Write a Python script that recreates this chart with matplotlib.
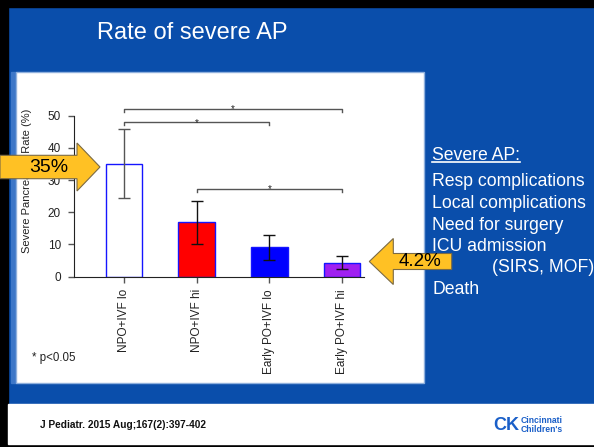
import matplotlib.pyplot as plt
from matplotlib.patches import Rectangle, Polygon

plt.rcParams['font.family'] = ['Liberation Sans', 'DejaVu Sans']

# Severe pancreatitis rate per group (%) with confidence limits
groups = ["NPO+IVF lo", "NPO+IVF hi", "Early PO+IVF lo", "Early PO+IVF hi"]
rates = [35.0, 16.9, 9.2, 4.2]
ci_low = [24.3, 10.1, 5.2, 2.3]
ci_high = [45.8, 23.6, 12.9, 6.4]
bar_colors = ["white", "#FF0000", "#0000FF", "#A020F0"]
err_colors = ["#555555", "#111111", "#111111", "#111111"]

# significance brackets (pairs of groups) and their heights
sig_pairs = [(0, 3), (0, 2), (1, 3)]
sig_levels = [52.2, 48.0, 27.3]

definition = ["Resp complications", "Local complications", "Need for surgery",
              "ICU admission", "(SIRS, MOF)", "Death"]

W, H = 594, 447
BLUE = "#0A4EAB"
GOLD = "#FFC124"


def box(axes, x0, y0, x1, y1, **kw):
    axes.add_patch(Rectangle((x0, y0), x1 - x0, y1 - y0, **kw))


def block_arrow(axes, tip, tail_x, head_len, head_half, body_half, label, text_x, size):
    tx, ty = tip
    d = 1 if tail_x < tx else -1
    base = tx - d*head_len
    pts = [(tail_x, ty - body_half), (base, ty - body_half), (base, ty - head_half),
           (tx, ty), (base, ty + head_half), (base, ty + body_half), (tail_x, ty + body_half)]
    axes.add_patch(Polygon(pts, closed=True, facecolor=GOLD, edgecolor="#7A6A45", lw=0.8))
    axes.text(text_x, ty, label, ha="center", va="center", fontsize=size, color="black")


def main():
    fig = plt.figure(figsize=(W/100, H/100), dpi=100)
    fig.patch.set_facecolor(BLUE)

    # slide background, in pixel coordinates
    bg = fig.add_axes([0, 0, 1, 1], zorder=0)
    bg.set(xlim=(0, W), ylim=(H, 0))
    bg.axis("off")
    box(bg, 0, 0, 8, H, color="black")
    box(bg, 0, 0, W, 7, color="black")
    box(bg, 0, 444, W, H, color="black")
    box(bg, 8, 404, W, 444, color="white")
    box(bg, 11, 72, 16, 383, color="#3D77C8")
    box(bg, 16, 72, 424, 383, facecolor="white", edgecolor="#8FB0DD", lw=1)

    bg.text(192, 33, "Rate of severe AP", color="white", fontsize=17, ha="center", va="center")
    bg.text(32, 358, "* p<0.05", fontsize=8.3, color="#222222", va="center")
    bg.text(40, 425, "J Pediatr. 2015 Aug;167(2):397-402", fontsize=7.3,
            fontweight="bold", color="#111111", va="center")
    bg.text(506, 425, "CK", fontsize=13, fontweight="bold", color="#1A5FC8",
            ha="center", va="center")
    bg.text(521, 425, "Cincinnati\nChildren's", fontsize=6.2, fontweight="bold",
            color="#1A5FC8", va="center", linespacing=0.95)

    # definition list on the right
    head = bg.text(432, 156, "Severe AP:", color="white", fontsize=12.7, va="center")
    ys = [182, 203.5, 225, 246.5, 268, 289.5]
    for line, y in zip(definition, ys):
        x = 491.7 if line.startswith("(") else 432
        bg.text(x, y, line, color="white", fontsize=12.7, va="center")

    # bar chart
    ax = fig.add_axes([74/W, 1 - 276.7/H, (364 - 74)/W, (276.7 - 115.7)/H], zorder=5)
    ax.patch.set_alpha(0)
    x = list(range(len(groups)))
    ax.bar(x, rates, width=0.5, color=bar_colors, edgecolor="#1515FF", linewidth=1)
    for i in x:
        ax.errorbar(i, rates[i], yerr=[[rates[i] - ci_low[i]], [ci_high[i] - rates[i]]],
                    color=err_colors[i], capsize=4, lw=1, capthick=1)
    for (a, b), level in zip(sig_pairs, sig_levels):
        ax.plot([a, a, b, b], [level - 1, level, level, level - 1], color="#555555",
                lw=1, clip_on=False)
        ax.annotate("*", ((a + b)/2, level), xytext=(0, -2.6), textcoords="offset points",
                    ha="center", va="baseline", fontsize=7, color="#222222",
                    annotation_clip=False)

    ax.set(xlim=(-0.685, 3.3), ylim=(0, 50))
    ax.set_yticks(range(0, 51, 10))
    ax.set_xticks(x)
    ax.set_xticklabels(groups, rotation=90, va="top")
    ax.tick_params(colors="#555555", labelcolor="#222222", labelsize=8.5, length=4.5, width=1)
    ax.tick_params(axis="y", pad=5)
    ax.tick_params(axis="x", pad=4.5)
    for side in ["top", "right"]:
        ax.spines[side].set_visible(False)
    for side in ["left", "bottom"]:
        ax.spines[side].set_color("#222222")
    ax.set_ylabel("Severe Pancreatitis Rate (%)", fontsize=8, color="#222222")
    ax.yaxis.set_label_coords(-0.146, 0.594)

    # callout arrows on top
    fg = fig.add_axes([0, 0, 1, 1], zorder=10)
    fg.set(xlim=(0, W), ylim=(H, 0))
    fg.axis("off")
    fg.patch.set_alpha(0)
    block_arrow(fg, (100, 167), 0, 23, 24, 11.7, f"{rates[0]:.0f}%", 48.5, 14)
    block_arrow(fg, (369.3, 261.5), 451.7, 24, 23, 8, f"{rates[3]:.1f}%", 420, 13.5)

    # underline the list heading
    fig.canvas.draw()
    bb = head.get_window_extent(fig.canvas.get_renderer())
    (x0, y0), (x1, _) = bg.transData.inverted().transform([[bb.x0, bb.y0], [bb.x1, bb.y1]])
    bg.plot([x0, x1], [y0 - 3, y0 - 3], color="white", lw=1.2)

    fig.savefig("out.png", dpi=100, facecolor=BLUE)


if __name__ == "__main__":
    main()
